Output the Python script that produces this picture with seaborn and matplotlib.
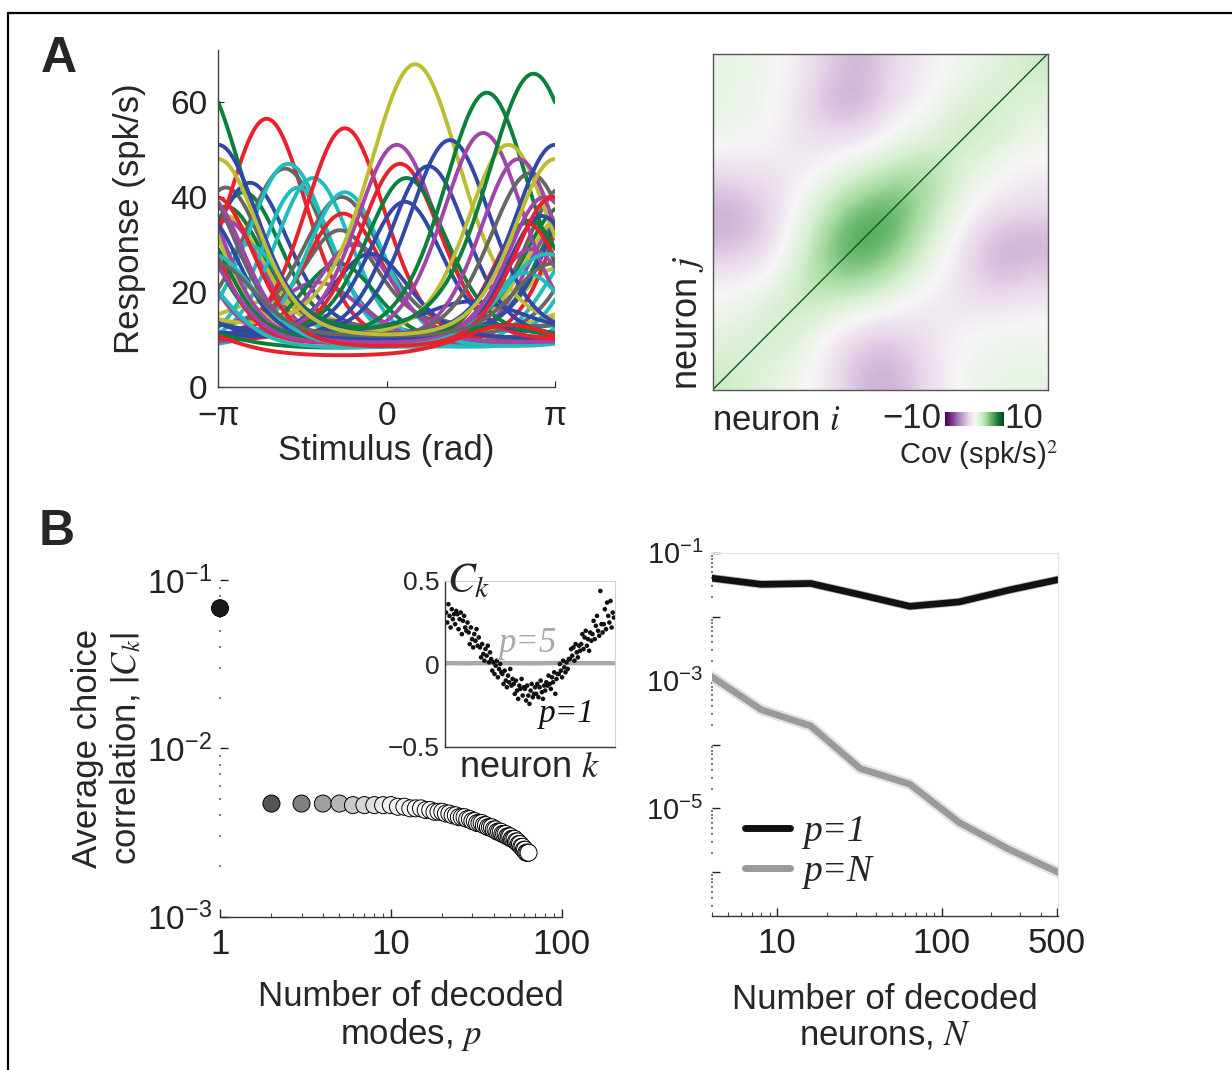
import numpy as np
import pandas as pd
import matplotlib
matplotlib.use("Agg")
import matplotlib.pyplot as plt
import seaborn as sns
from matplotlib.lines import Line2D
from matplotlib.ticker import LogLocator, NullFormatter

# ---------------- data ----------------
# Panel A left: tuning curves (read parameters: colour, preferred stimulus, peak, baseline, width)
tc_color = (['g'] * 8 + ['r'] * 8 + ['b'] * 8 + ['m'] * 8 + ['c'] * 7 + ['y'] * 6 + ['k'] * 7)
tc_pref = [2.74, 1.87, 0.37, -2.67, 2.67, -3.0, -0.9, 2.2,
           -2.24, -0.78, 0.25, -0.81, 3.1, 2.61, 2.3, -2.0,
           1.18, 3.14, 0.78, 0.34, -2.55, 2.9, -0.3, 1.6,
           1.8, 0.19, 2.46, -2.99, 2.95, -0.6, -1.3, 2.7,
           -1.84, -1.37, -1.65, -0.78, 3.0, -2.6, 2.6,
           0.53, 2.27, 3.14, -3.0, -2.2, -3.1,
           -1.9, -0.84, 2.68, -3.0, -0.87, 3.1, -1.2]
tc_peak = [66, 62, 44, 41, 35, 38, 26, 13,
           56.5, 54.5, 47, 36.5, 40, 34.5, 13, 12,
           52, 51, 46.5, 39, 43, 36, 28, 18,
           53.5, 51, 48, 35, 40, 30, 22, 29,
           47, 44, 42, 41, 28, 30, 24,
           68, 51, 48, 36, 18, 25,
           46, 40, 45, 42, 33, 26, 14]
tc_base = [9, 9, 10, 10, 10, 11, 9, 7.5,
           8, 8, 9, 10, 8, 9, 6, 8.5,
           10, 10, 10, 11, 11, 10, 10, 11,
           9, 9, 9, 9, 9, 9, 8.5, 9,
           8, 8, 8, 8, 7.5, 8, 8,
           10, 10, 10, 10, 11, 9,
           10, 12, 9.5, 11, 12.5, 10.5, 9]
tc_kappa = [1.4, 1.6, 1.8, 2.0, 2.5, 2.0, 2.0, 1.0,
            1.8, 1.8, 1.8, 2.0, 2.0, 2.5, 1.2, 1.0,
            1.8, 1.8, 2.0, 2.2, 2.0, 2.5, 2.0, 1.2,
            1.8, 1.8, 2.0, 2.2, 2.2, 2.0, 1.5, 2.2,
            1.8, 2.0, 2.2, 2.0, 1.5, 2.0, 2.0,
            1.4, 1.8, 1.8, 2.0, 1.2, 2.0,
            1.8, 2.0, 1.8, 2.2, 2.2, 2.0, 1.0]

# Panel A right: coarse covariance grid (rows = neuron j from bottom, cols = neuron i)
cov_grid = [
    [2.5, 1.5, 0.5, -1.0, -3.5, -3.5, -1.5, 0.5, 1.0, 1.0],
    [1.5, 2.5, 1.5, -0.5, -2.5, -2.5, -1.0, 0.0, 0.5, 0.5],
    [0.5, 1.5, 3.0, 2.0, 1.0, 0.0, -1.0, -1.0, -1.0, -0.5],
    [-1.0, -0.5, 2.0, 5.0, 5.0, 3.0, 0.5, -1.5, -3.5, -2.5],
    [-3.5, -2.5, 1.0, 5.0, 7.0, 5.5, 2.0, -1.0, -3.5, -3.5],
    [-3.5, -2.5, 0.0, 3.0, 5.5, 6.0, 3.5, 0.5, -1.0, -1.5],
    [-1.5, -1.0, -1.0, 0.5, 2.0, 3.5, 4.0, 1.5, 0.0, -0.5],
    [0.5, 0.0, -1.0, -1.5, -1.0, 0.5, 1.5, 3.0, 2.0, 0.5],
    [1.0, 0.5, -1.0, -3.5, -3.5, -1.0, 0.0, 2.0, 2.5, 1.5],
    [1.0, 0.5, -0.5, -2.5, -3.5, -1.5, -0.5, 0.5, 1.5, 2.5],
]

# Panel B left: average choice correlation vs number of decoded modes
modes_p = list(range(1, 65))
modes_cc = [0.068,
            0.0047, 0.0047, 0.0047, 0.0047, 0.0046, 0.0046, 0.0046, 0.0046, 0.0046,
            0.0045, 0.0045, 0.0044, 0.0044, 0.0044, 0.0043, 0.0043, 0.0042, 0.0042, 0.0042,
            0.0041, 0.0041, 0.0040, 0.0040, 0.0039, 0.0039, 0.0039, 0.0038, 0.0038, 0.0037,
            0.0037, 0.0036, 0.0036, 0.0036, 0.0035, 0.0035, 0.0034, 0.0034, 0.0034, 0.0033,
            0.0033, 0.0032, 0.0032, 0.0032, 0.0031, 0.0031, 0.0031, 0.0030, 0.0030, 0.0030,
            0.0029, 0.0029, 0.0029, 0.0028, 0.0028, 0.0027, 0.0027, 0.0026, 0.0026, 0.0025,
            0.0025, 0.0024, 0.0024, 0.0024]

# Inset: choice correlation of each neuron, p=1 (dots) and p=5 (line)
ck_p1 = [0.31, 0.25, 0.36, 0.29, 0.22, 0.33, 0.27, 0.30, 0.24, 0.32,
         0.30, 0.21, 0.27, 0.31, 0.18, 0.26, 0.29, 0.22, 0.20, 0.25,
         0.19, 0.12, 0.22, 0.15, 0.10, 0.18, 0.14, 0.21, 0.11, 0.16,
         0.10, 0.04, 0.12, 0.06, 0.02, 0.09, 0.05, 0.11, 0.01, 0.07,
         0.03, -0.04, 0.01, -0.06, -0.01, 0.02, -0.08, -0.03, 0.00, -0.05,
         -0.06, -0.12, -0.04, -0.10, -0.14, -0.07, -0.11, -0.03, -0.13, -0.09,
         -0.12, -0.18, -0.10, -0.16, -0.21, -0.13, -0.15, -0.09, -0.19, -0.14,
         -0.15, -0.22, -0.13, -0.19, -0.24, -0.16, -0.12, -0.20, -0.18, -0.14,
         -0.18, -0.12, -0.20, -0.14, -0.10, -0.17, -0.21, -0.13, -0.16, -0.11,
         -0.13, -0.07, -0.12, -0.15, -0.08, -0.11, -0.05, -0.18, -0.09, -0.06,
         -0.06, 0.00, -0.04, -0.08, 0.02, -0.02, -0.05, 0.01, -0.03, 0.03,
         0.03, 0.09, 0.05, 0.10, 0.02, 0.12, 0.07, 0.04, 0.11, 0.08,
         0.12, 0.18, 0.09, 0.16, 0.20, 0.11, 0.15, 0.08, 0.19, 0.14,
         0.18, 0.26, 0.15, 0.23, 0.29, 0.20, 0.17, 0.44, 0.24, 0.19,
         0.24, 0.33, 0.21, 0.37, 0.29, 0.25, 0.38, 0.22, 0.31, 0.28]
ck_p5_k = [1, 20, 40, 60, 80, 100, 120, 150]
ck_p5 = [0.005, 0.004, 0.006, 0.005, 0.004, 0.006, 0.005, 0.005]

# Panel B right: average |C_k| vs number of decoded neurons
n_neurons = [4, 8, 16, 32, 64, 128, 256, 512]
cc_p1 = [0.040, 0.032, 0.033, 0.022, 0.0145, 0.017, 0.026, 0.038]
cc_pN = [1.15e-3, 3.5e-4, 1.95e-4, 4.2e-5, 2.4e-5, 6.0e-6, 2.3e-6, 1.0e-6]

# ---------------- style ----------------
sns.set_theme(style="white")
plt.rcParams["font.family"] = ["Liberation Sans", "DejaVu Sans"]
plt.rcParams["mathtext.fontset"] = "stix"
plt.rcParams["axes.unicode_minus"] = True
plt.rcParams["xtick.bottom"] = True
plt.rcParams["ytick.left"] = True
TICK = 24
LAB = 25
SERIF = ["Liberation Serif", "DejaVu Serif"]

fig = plt.figure(figsize=(12.32, 10.70), dpi=100)
fig.patch.set_facecolor("white")

# frame lines
fig.add_artist(Line2D([8 / 1232, 1.0], [1 - 12.5 / 1070] * 2, color="black", lw=1.6))
fig.add_artist(Line2D([8 / 1232] * 2, [0, 1 - 12.5 / 1070], color="black", lw=1.6))

fig.text(41 / 1232, 1 - 72 / 1070, "A", fontsize=36, fontweight="bold", va="baseline", ha="left")
fig.text(39 / 1232, 1 - 545 / 1070, "B", fontsize=36, fontweight="bold", va="baseline", ha="left")

# ---------- Panel A left: tuning curves ----------
cmap_tc = {"g": "#0b7f3b", "r": "#e8212a", "b": "#3048a8", "m": "#a046a8",
           "c": "#1fbdbd", "y": "#bdbd33", "k": "#666666"}
stim = np.linspace(-np.pi, np.pi, 241)
rows = []
for idx in range(len(tc_pref)):
    rate = tc_base[idx] + (tc_peak[idx] - tc_base[idx]) * np.exp(
        tc_kappa[idx] * (np.cos(stim - tc_pref[idx]) - 1))
    rows.append(pd.DataFrame({"stim": stim, "rate": rate, "neuron": idx}))
tc_df = pd.concat(rows, ignore_index=True)
draw_order = sorted(range(len(tc_pref)), key=lambda i: tc_pref[i])
tc_palette = {i: cmap_tc[tc_color[i]] for i in range(len(tc_pref))}
ax1 = fig.add_axes([218.3 / 1232, 1 - 386.7 / 1070, 336.7 / 1232, 336.7 / 1070])
sns.lineplot(data=tc_df, x="stim", y="rate", hue="neuron", hue_order=draw_order,
             palette=tc_palette, lw=2.8, legend=False, estimator=None, ax=ax1)
ax1.set_xlim(-np.pi, np.pi)
ax1.set_ylim(0, 71)
ax1.set_xticks([-np.pi, 0, np.pi])
ax1.set_xticklabels(["\u2212\u03c0", "0", "\u03c0"])
ax1.set_yticks([0, 20, 40, 60])
ax1.tick_params(direction="in", length=4, width=0.8, labelsize=TICK,
                left=True, bottom=True, colors="#222222")
ax1.tick_params(axis="x", pad=10)
ax1.tick_params(axis="y", pad=8)
for s in ["top", "right"]:
    ax1.spines[s].set_visible(False)
for s in ["left", "bottom"]:
    ax1.spines[s].set_color("#444444")
    ax1.spines[s].set_linewidth(1.0)
ax1.set_xlabel("Stimulus (rad)", fontsize=LAB, labelpad=2)
ax1.set_ylabel("Response (spk/s)", fontsize=LAB)
ax1.yaxis.set_label_coords(-0.215, 0.5)

# ---------- Panel A right: covariance ----------
cov_arr = np.array(cov_grid)
ncov = cov_arr.shape[0]
ax2 = fig.add_axes([712.5 / 1232, 1 - 390 / 1070, 335 / 1232, 336 / 1070])
im = ax2.imshow(cov_arr, origin="lower", extent=[0, ncov, 0, ncov], cmap="PRGn",
                vmin=-10, vmax=10, interpolation="bicubic", aspect="auto")
ax2.plot([0, ncov], [0, ncov], color="#0f5a26", lw=1.0)
ax2.set_xlim(0, ncov)
ax2.set_ylim(0, ncov)
ax2.set_xticks([])
ax2.set_yticks([])
ax2.tick_params(length=0)
for s in ax2.spines.values():
    s.set_color("#555555")
    s.set_linewidth(1.0)
    s.set_visible(True)
ax2.text(0.0, -0.09, "neuron $i$", transform=ax2.transAxes, fontsize=LAB,
         ha="left", va="center")
ax2.text(-0.072, 0.0, "neuron $j$", transform=ax2.transAxes, fontsize=LAB + 1,
         ha="center", va="bottom", rotation=90)
cax = fig.add_axes([945 / 1232, 1 - 426 / 1070, 59 / 1232, 14 / 1070])
cb = fig.colorbar(im, cax=cax, orientation="horizontal")
cb.set_ticks([])
cb.outline.set_visible(False)
fig.text(941 / 1232, 1 - 419 / 1070, "\u221210", fontsize=LAB, ha="right", va="center")
fig.text(1004 / 1232, 1 - 419 / 1070, "10", fontsize=LAB, ha="left", va="center")
fig.text(1058 / 1232, 1 - 455 / 1070, "Cov (spk/s)$^2$", fontsize=21, ha="right", va="center")

# ---------- Panel B left: modes ----------
modes_df = pd.DataFrame({"p": modes_p, "cc": modes_cc})
gray_of = {}
for p in modes_p:
    g = 0.1 if p == 1 else 1 - 0.67 * np.exp(-(p - 2) / 3.5)
    gray_of[p] = (g, g, g)
ax3 = fig.add_axes([220 / 1232, 1 - 916.7 / 1070, 341.7 / 1232, 336.7 / 1070])
sns.scatterplot(data=modes_df, x="p", y="cc", hue="p", palette=gray_of, s=150,
                edgecolor="black", linewidth=0.7, legend=False, ax=ax3, zorder=3)
for coll in ax3.collections:
    coll.set_clip_on(False)
ax3.set_xscale("log")
ax3.set_yscale("log")
ax3.set_xlim(1, 100)
ax3.set_ylim(1e-3, 1e-1)
ax3.set_xticks([1, 10, 100])
ax3.set_xticklabels(["1", "10", "100"])
ax3.set_yticks([1e-3, 1e-2, 1e-1])
ax3.set_yticklabels([r"$\mathdefault{10^{-3}}$", r"$\mathdefault{10^{-2}}$",
                     r"$\mathdefault{10^{-1}}$"])
ax3.xaxis.set_minor_locator(LogLocator(base=10, subs=np.arange(2, 10)))
ax3.yaxis.set_minor_locator(LogLocator(base=10, subs=np.arange(2, 10)))
ax3.xaxis.set_minor_formatter(NullFormatter())
ax3.yaxis.set_minor_formatter(NullFormatter())
ax3.tick_params(axis="both", which="both", bottom=True, left=True)
ax3.tick_params(axis="x", which="major", direction="in", length=6, width=1.0,
                labelsize=TICK + 1, pad=8, colors="#222222")
ax3.tick_params(axis="y", which="major", direction="in", length=6, width=1.0,
                labelsize=TICK, pad=6, colors="#222222")
ax3.tick_params(axis="x", which="minor", direction="in", length=3, width=0.8, color="#444444")
ax3.tick_params(axis="y", which="minor", direction="inout", length=2, width=1.4, color="#777777")
for s in ["top", "right", "left"]:
    ax3.spines[s].set_visible(False)
ax3.spines["bottom"].set_color("#333333")
ax3.spines["bottom"].set_linewidth(1.0)
ax3.set_xlabel("Number of decoded\nmodes, $p$", fontsize=LAB, linespacing=1.1)
ax3.xaxis.set_label_coords(0.56, -0.188)
ax3.set_ylabel("Average choice\ncorrelation, $\\left|C_k\\right|$", fontsize=LAB, linespacing=1.15)
ax3.yaxis.set_label_coords(-0.225, 0.5)

# ---------- Inset ----------
ax4 = fig.add_axes([445 / 1232, 1 - 747 / 1070, 170 / 1232, 166 / 1070])
ax4.set_facecolor("white")
k_idx = np.arange(1, len(ck_p1) + 1)
sns.lineplot(x=ck_p5_k, y=ck_p5, color="#a8a8a8", lw=3.2, ax=ax4, zorder=1)
sns.scatterplot(x=k_idx, y=ck_p1, color="#111111", s=11, edgecolor="none", ax=ax4, zorder=2)
ax4.set_xlim(0, len(ck_p1) + 1)
ax4.set_ylim(-0.5, 0.5)
ax4.set_xticks([])
ax4.set_yticks([0.5, 0, -0.5])
ax4.set_yticklabels(["0.5", "0", "\u22120.5"])
ax4.tick_params(length=0, labelsize=19, pad=4)
for s in ["top", "right"]:
    ax4.spines[s].set_color("#d0d0d0")
    ax4.spines[s].set_linewidth(0.8)
for s in ["left", "bottom"]:
    ax4.spines[s].set_color("#333333")
    ax4.spines[s].set_linewidth(1.0)
ax4.set_xlabel("neuron $k$", fontsize=LAB + 1, labelpad=2)
ax4.text(0.01, 1.0, "$C_k$", transform=ax4.transAxes, fontsize=30, ha="left", va="center")
ax4.text(0.31, 0.575, "p=5", transform=ax4.transAxes, fontsize=25, color="#a8a8a8",
         family=SERIF, style="italic", ha="left", va="baseline")
ax4.text(0.55, 0.15, "p=1", transform=ax4.transAxes, fontsize=24, color="#111111",
         family=SERIF, style="italic", ha="left", va="baseline")

# ---------- Panel B right: vs N ----------
ax5 = fig.add_axes([711.7 / 1232, 1 - 915.7 / 1070, 346.6 / 1232, 363 / 1070])
nd = pd.DataFrame({"N": n_neurons * 2, "cc": cc_p1 + cc_pN,
                   "which": ["p=1"] * len(n_neurons) + ["p=N"] * len(n_neurons)})
sns.lineplot(data=nd[nd.which == "p=N"], x="N", y="cc", color="#e2e2e2", lw=8.0,
             ax=ax5, legend=False)
sns.lineplot(data=nd[nd.which == "p=1"], x="N", y="cc", color="#bbbbbb", lw=6.0,
             ax=ax5, legend=False)
sns.lineplot(data=nd, x="N", y="cc", hue="which",
             palette={"p=1": "#111111", "p=N": "#9a9a9a"}, lw=4.8, ax=ax5)
ax5.set_xscale("log")
ax5.set_yscale("log")
ax5.set_xlim(4, 512)
ax5.set_ylim(2.1e-7, 1e-1)
ax5.set_xticks([10, 100, 500])
ax5.set_xticklabels(["10", "100", "500"])
ax5.xaxis.set_minor_locator(LogLocator(base=10, subs=np.arange(2, 10)))
ax5.xaxis.set_minor_formatter(NullFormatter())
ax5.set_yticks([1e-6, 1e-5, 1e-4, 1e-3, 1e-2, 1e-1])
ax5.set_yticklabels(["", r"$\mathdefault{10^{-5}}$", "", r"$\mathdefault{10^{-3}}$", "",
                     r"$\mathdefault{10^{-1}}$"])
ax5.yaxis.set_minor_locator(LogLocator(base=10, subs=np.arange(2, 10)))
ax5.yaxis.set_minor_formatter(NullFormatter())
ax5.tick_params(axis="both", which="both", bottom=True, left=True)
ax5.tick_params(axis="x", which="major", direction="in", length=6, width=1.0,
                labelsize=TICK + 1, pad=8, colors="#222222")
ax5.tick_params(axis="y", which="major", direction="in", length=6, width=1.0,
                labelsize=TICK - 3, pad=6, colors="#222222")
ax5.tick_params(axis="x", which="minor", direction="in", length=3, width=0.8, color="#444444")
ax5.tick_params(axis="y", which="minor", direction="inout", length=2, width=1.4, color="#777777")
ax5.spines["left"].set_visible(False)
for s in ["top", "right"]:
    ax5.spines[s].set_color("#e2e2e2")
    ax5.spines[s].set_linewidth(0.8)
ax5.spines["bottom"].set_color("#333333")
ax5.spines["bottom"].set_linewidth(1.0)
ax5.set_ylabel("")
ax5.set_xlabel("Number of decoded\nneurons, $N$", fontsize=LAB, linespacing=1.1)
ax5.xaxis.set_label_coords(0.5, -0.186)
leg = ax5.legend(loc="lower left", bbox_to_anchor=(0.096, 0.074), frameon=False,
                 handlelength=1.2, handletextpad=0.35, labelspacing=0.15,
                 borderaxespad=0, borderpad=0,
                 prop={"family": SERIF, "style": "italic", "size": 27})
for h in leg.get_lines():
    h.set_linewidth(5)

fig.savefig("out.png", dpi=100, facecolor="white")
